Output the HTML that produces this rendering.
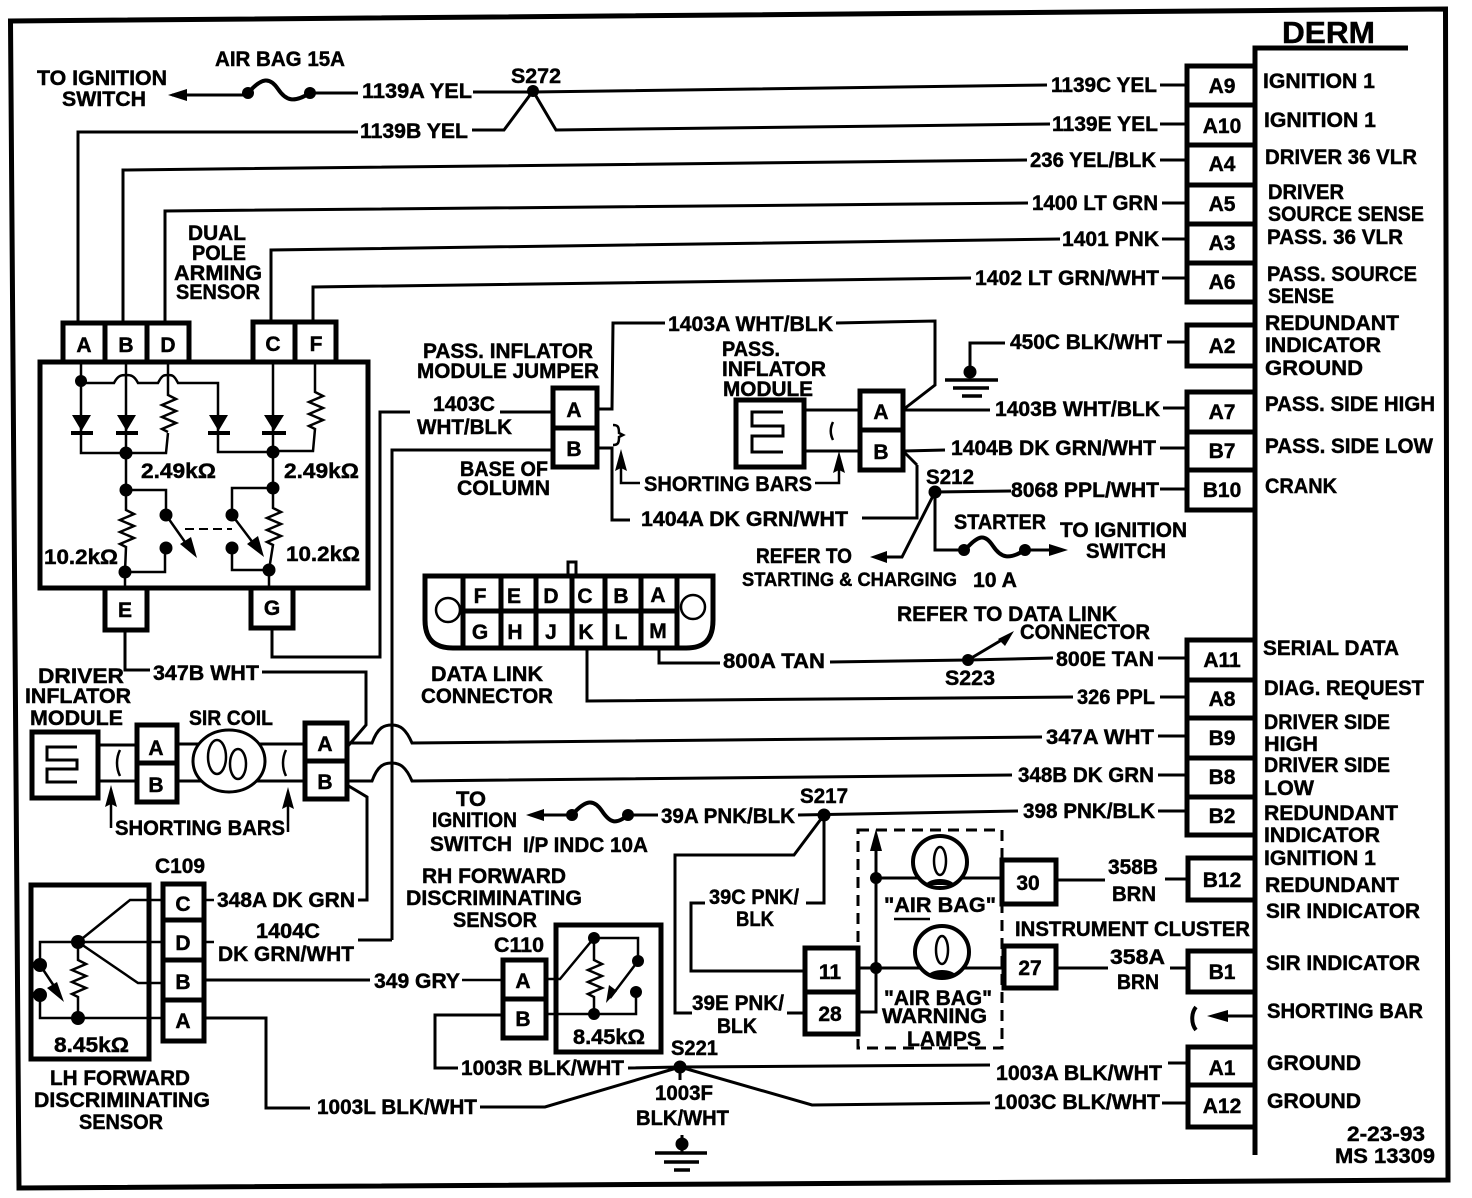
<!DOCTYPE html>
<html><head><meta charset="utf-8"><style>
html,body{margin:0;padding:0;background:#fff}
svg{display:block}
text{font-family:"Liberation Sans",sans-serif;font-weight:bold;font-size:21px;fill:#000;stroke:#000;stroke-width:.45px}
.w{fill:none;stroke:#000;stroke-width:3}
.b{fill:none;stroke:#000;stroke-width:5}
.t{fill:none;stroke:#000;stroke-width:2.5}
.f{fill:#000;stroke:none}
</style></head><body>
<svg width="1472" height="1198" viewBox="0 0 1472 1198" xmlns="http://www.w3.org/2000/svg">
<rect width="1472" height="1198" fill="#fff"/>
<path class="b" d="M10.500 21L1445.500 9L1448 1180L19 1188Z"/>
<!-- DERM -->
<path class="b" d="M1255 1155V48H1408"/>
<g class="b">
<path class="b" d="M1255 66H1187V302H1255M1187 105H1255M1187 145H1255M1187 185H1255M1187 224H1255M1187 263H1255"/>
<path class="b" d="M1255 325H1187V366H1255"/>
<path class="b" d="M1255 392H1187V510H1255M1187 432H1255M1187 470H1255"/>
<path class="b" d="M1255 640H1187V835H1255M1187 680H1255M1187 718H1255M1187 758H1255M1187 797H1255"/>
<path class="b" d="M1255 858H1188V900H1255"/>
<path class="b" d="M1255 951H1188V992H1255"/>
<path class="b" d="M1255 1047H1188V1127H1255M1188 1085H1255"/>
</g>
<!-- top wires -->
<path class="w" d="M1160 85H1187M1160 124H1187M1160 160H1187M1162 203H1187M1162 239H1187M1162 278H1187M1167 342H1187M1163 408H1187M1160 448H1187M1160 489H1187M1158 658H1187M1160 697H1187M1158 736H1187M1158 775H1187M1158 811H1187M1165 879H1187M1170 968H1187M1168 1063H1187M1162 1103H1187"/>
<path class="w" d="M473 92H533L1047 85M472 130H504L533 91L556 130L1050 124M78 322V132H358M123 322V170L1027 160M165 322V211L1028 203M271 322V250L1060 239M313 322V287L971 278"/>
<path class="w" d="M172 95H248M310 93H358"/>
<path class="f" d="M168 95l19-6v12z"/>
<circle cx="248" cy="93" r="6" class="f"/><circle cx="310" cy="93" r="6" class="f"/><circle cx="533" cy="91" r="6" class="f"/>
<path class="b" d="M248 93c14-16 22-16 30-4s16 14 32 4" style="stroke-width:4"/>
<!-- arming sensor -->
<rect x="40" y="362" width="328" height="226" class="b"/>
<path class="b" d="M63 360V323H189V360M105 323V360M147 323V360M253 360V322H336V360M295 322V360M105 590V630H147V590M251 590V628H293V590"/>
<path class="t" d="M81 362V453H166L168 433M126 362V490M168 362V395l8 4-14 6 14 6-14 6 14 6-14 6 6 3M81 383H114c4-8 8-8 12-8s8 0 12 8H158c4-8 6-8 10-8s6 0 10 8H218V452H273M273 362V488M315 362V392l8 4-14 6 14 6-14 6 14 6-14 6 6 3L313 451H273"/>
<path class="f" d="M72 415h19l-9.500 16zM117 415h19l-9.500 16zM209 415h19l-9.500 16zM264 415h20l-10 16z"/>
<path class="b" d="M71 433h22M116 433h22M208 433h22M262 433h24" style="stroke-width:4"/>
<path class="t" d="M126 490H166V515M166 515L192 552M126 490V510l8 4-14 6 14 6-14 6 14 6-14 6 6 3L125 572H165V548M125 572V590M273 488H232V515L260 552M273 488V508l8 4-14 6 14 6-14 6 14 6-14 6 6 3L269 570H232V548M269 570V590"/>
<path class="f" d="M197 558l-17-14 11-7zM264 557l-17-13 11-8z"/>
<path d="M185 529H232" stroke="#000" stroke-width="2" stroke-dasharray="9 5" fill="none"/>
<g class="f"><circle cx="81" cy="381" r="6"/><circle cx="126" cy="453" r="6.500"/><circle cx="273" cy="452" r="6.500"/><circle cx="126" cy="490" r="6.500"/><circle cx="273" cy="488" r="6.500"/><circle cx="166" cy="515" r="6.500"/><circle cx="232" cy="515" r="6.500"/><circle cx="166" cy="548" r="6.500"/><circle cx="232" cy="548" r="6.500"/><circle cx="125" cy="572" r="6.500"/><circle cx="269" cy="570" r="6.500"/></g>
<!-- E,G wires -->
<path class="w" d="M125 630V670H150M262 672H366V725L348 746M272 628V657H380V412H410M500 412H553M392 940V450H553M358 940H392"/>
<!-- driver module -->
<rect x="32" y="732" width="66" height="66" class="b"/>
<path class="t" d="M77 747H47V760H77V769H47V782H77" style="stroke-width:3"/>
<path class="w" d="M99 745H137M99 781H137M177 744H305M177 781H305"/>
<path class="b" d="M137 725H177V802H137ZM137 763H177M305 723H347V799H305ZM305 761H347"/>
<ellipse cx="229" cy="761" rx="36" ry="31" class="b" style="stroke-width:3;fill:#fff"/>
<ellipse cx="217" cy="757" rx="9" ry="17" class="t"/><ellipse cx="238" cy="764" rx="8" ry="15" class="t"/>
<path class="t" d="M120 750c-4 8-4 18 0 26M286 750c-4 8-4 18 0 26"/>
<path class="t" d="M111 828V790M288 832V792"/>
<path class="f" d="M111 785l-6 22 6-3 6 3zM288 787l-6 22 6-3 6 3z"/>
<path class="w" d="M347 743H372c6-16 12-18 20-18s14 4 20 18L1042 737M347 781H372c6-16 12-18 20-18s14 4 20 18L1012 775M347 785L367 797V900H358"/>
<!-- LH sensor -->
<rect x="31" y="885" width="118" height="174" class="b"/>
<path class="b" d="M163 884H204V1041H163ZM163 920H204M163 960H204M163 1000H204"/>
<path class="t" d="M163 900H130L78 942M163 942H40V965M78 942L138 983H163M78 942V960l8 4-14 6 14 6-14 6 14 6-14 6 6 3V1018M163 1018H40V995M40 965L60 995M204 900H214M204 942H214"/>
<path class="w" d="M204 980H370M204 1018H266V1108H310"/>
<path class="f" d="M64 1002l-17-14 10-6z"/>
<g class="f"><circle cx="78" cy="942" r="7"/><circle cx="78" cy="1018" r="7"/><circle cx="40" cy="965" r="7"/><circle cx="40" cy="995" r="7"/></g>
<!-- jumper -->
<path class="b" d="M553 388H597V467H553ZM553 428H597"/>
<path class="w" d="M597 409H612L613 323H665M836 323L935 321V385L904 409M597 448H612V520H630M917 465V518H862M904 452L917 465"/>
<path class="t" d="M613 425c5 0 6 2 6 8l4 2-4 2c0 6-1 8-6 8"/>
<path class="t" d="M621 455V483H640"/><path class="f" d="M621 449l-6 22 6-3 6 3z"/>
<!-- pass inflator -->
<rect x="736" y="400" width="68" height="67" class="b"/>
<path class="t" d="M783 412H752V426H783V436H752V452H783" style="stroke-width:3"/>
<path class="w" d="M805 410H860M805 451H860"/>
<path class="b" d="M860 391H903V470H860ZM860 430H903"/>
<path class="t" d="M833 422c-3 6-3 12 0 18"/>
<path class="t" d="M815 483H839V456"/><path class="f" d="M839 451l-6 22 6-3 6 3z"/>
<path class="w" d="M904 410H990M904 451L945 450"/>
<!-- ground 450C -->
<path class="w" d="M1005 343H970V372"/><circle cx="970" cy="372" r="6.500" class="f"/>
<path class="b" d="M945 380H998M953 388H989M962 396H982" style="stroke-width:3.500"/>
<!-- S212 -->
<path class="w" d="M1011 491L935 492V550H965M935 492L902 557H886M1025 550H1050"/>
<path class="f" d="M870 557l17-6v12zM1068 550l-19-6v12z"/>
<circle cx="935" cy="492" r="6.500" class="f"/><circle cx="964" cy="550" r="6" class="f"/><circle cx="1025" cy="550" r="6" class="f"/>
<path class="b" d="M965 550c14-16 20-16 28-4s16 14 32 4" style="stroke-width:4"/>
<!-- DLC -->
<path class="b" d="M425 576V620c0 20 10 28 28 28H686c18 0 27-8 27-28V576H425ZM463 576V648M501 576V648M536 576V648M572 576V648M605 576V648M641 576V648M677 576V648M463 611H677"/>
<rect x="568" y="562" width="8" height="13" class="b" style="stroke-width:3"/>
<circle cx="448" cy="610" r="12" class="t"/><circle cx="693" cy="607" r="12" class="t"/>
<path class="w" d="M659 648V663H720M830 662L968 660L1053 658M587 648V701L1073 697M968 660L1005 638"/>
<path class="f" d="M1014 631l-16 8 7 7z"/><circle cx="968" cy="660" r="6" class="f"/>
<!-- 39 wiring -->
<path class="w" d="M530 815H572M628 815H658M798 815L1018 811"/>
<path class="f" d="M526 815l18-6v12z"/>
<circle cx="572" cy="815" r="6" class="f"/><circle cx="628" cy="815" r="6" class="f"/><circle cx="824" cy="815" r="6.500" class="f"/>
<path class="b" d="M572 815c14-16 22-16 30-4s14 14 26 4" style="stroke-width:4"/>
<path class="w" d="M824 815V903H806M824 815L794 855H675V1013H692M705 903H691V971H805M787 1013H805"/>
<!-- RH sensor -->
<rect x="556" y="925" width="105" height="127" class="b"/>
<path class="b" d="M503 960H546V1038H503ZM503 999H546"/>
<path class="t" d="M462 980H503M546 979H560L594 938H638V961L610 998M594 938V960l8 4-14 6 14 6-14 6 14 6-14 6 6 3V1014M547 1014H636V992"/>
<path class="w" d="M503 1015H435V1068H458"/>
<path class="f" d="M606 1003l3-18 8 6z"/>
<g class="f"><circle cx="594" cy="938" r="6"/><circle cx="638" cy="961" r="6"/><circle cx="636" cy="992" r="6"/><circle cx="594" cy="1014" r="6"/></g>
<!-- cluster -->
<path d="M858 830H1002V1048H858Z" fill="none" stroke="#000" stroke-width="3" stroke-dasharray="11 7"/>
<path class="b" d="M805 948H858V1034H805ZM805 992H858M1002 860H1056V904H1002ZM1004 946H1056V988H1004Z"/>
<path class="w" d="M858 968H1004M876 968V845M876 878H1002M858 1012H876V968M1056 880H1105M1056 968H1108"/>
<path class="f" d="M876 829l-6 22h12z"/><circle cx="876" cy="878" r="6" class="f"/><circle cx="876" cy="968" r="6" class="f"/>
<ellipse cx="940" cy="862" rx="27" ry="26" style="fill:#fff;stroke:#000;stroke-width:4"/><ellipse cx="942" cy="952" rx="27" ry="26" style="fill:#fff;stroke:#000;stroke-width:4"/>
<ellipse cx="940" cy="861" rx="6" ry="14" class="t"/><ellipse cx="942" cy="950" rx="6" ry="14" class="t"/>
<path class="f" d="M925 885c5-8 25-8 30 0zM927 976c5-8 25-8 30 0z"/>
<path class="t" d="M894 919H930"/>
<!-- S221 -->
<path class="w" d="M628 1068L680 1067L990 1065M680 1067L812 1105L990 1103M680 1067L545 1107H480M680 1067V1080M682 1135V1153"/>
<circle cx="680" cy="1067" r="6.500" class="f"/><circle cx="682" cy="1144" r="6.500" class="f"/>
<path class="b" d="M655 1153H707M664 1162H699M674 1170H690" style="stroke-width:3.500"/>
<!-- right shorting bar -->
<path class="w" d="M1255 1016H1222"/><path class="f" d="M1207 1016l21-6v12z"/>
<path class="w" d="M1196 1007c-5 6-5 17 0 23" style="stroke-width:4"/>

<!-- TEXT -->
<g>
<text x="1282" y="43" style="font-size:31px" textLength="93" lengthAdjust="spacingAndGlyphs">DERM</text>
<text x="37" y="85" textLength="130" lengthAdjust="spacingAndGlyphs">TO IGNITION</text>
<text x="62" y="106" textLength="84" lengthAdjust="spacingAndGlyphs">SWITCH</text>
<text x="215" y="66" textLength="130" lengthAdjust="spacingAndGlyphs">AIR BAG 15A</text>
<text x="362" y="98" textLength="110" lengthAdjust="spacingAndGlyphs">1139A YEL</text>
<text x="360" y="138" textLength="108" lengthAdjust="spacingAndGlyphs">1139B YEL</text>
<text x="511" y="83" textLength="50" lengthAdjust="spacingAndGlyphs">S272</text>
<text x="1051" y="92" textLength="106" lengthAdjust="spacingAndGlyphs">1139C YEL</text>
<text x="1052" y="131" textLength="106" lengthAdjust="spacingAndGlyphs">1139E YEL</text>
<text x="1030" y="167" textLength="126" lengthAdjust="spacingAndGlyphs">236 YEL/BLK</text>
<text x="1032" y="210" textLength="126" lengthAdjust="spacingAndGlyphs">1400 LT GRN</text>
<text x="1062" y="246" textLength="97" lengthAdjust="spacingAndGlyphs">1401 PNK</text>
<text x="975" y="285" textLength="184" lengthAdjust="spacingAndGlyphs">1402 LT GRN/WHT</text>
<text x="188" y="240" textLength="58" lengthAdjust="spacingAndGlyphs">DUAL</text>
<text x="192" y="260" textLength="54" lengthAdjust="spacingAndGlyphs">POLE</text>
<text x="174" y="280" textLength="88" lengthAdjust="spacingAndGlyphs">ARMING</text>
<text x="176" y="299" textLength="84" lengthAdjust="spacingAndGlyphs">SENSOR</text>
<text x="668" y="331" textLength="165" lengthAdjust="spacingAndGlyphs">1403A WHT/BLK</text>
<text x="722" y="356" textLength="58" lengthAdjust="spacingAndGlyphs">PASS.</text>
<text x="722" y="376" textLength="104" lengthAdjust="spacingAndGlyphs">INFLATOR</text>
<text x="723" y="396" textLength="90" lengthAdjust="spacingAndGlyphs">MODULE</text>
<text x="423" y="358" textLength="170" lengthAdjust="spacingAndGlyphs">PASS. INFLATOR</text>
<text x="417" y="378" textLength="182" lengthAdjust="spacingAndGlyphs">MODULE JUMPER</text>
<text x="433" y="411" textLength="62" lengthAdjust="spacingAndGlyphs">1403C</text>
<text x="417" y="434" textLength="95" lengthAdjust="spacingAndGlyphs">WHT/BLK</text>
<text x="460" y="476" textLength="88" lengthAdjust="spacingAndGlyphs">BASE OF</text>
<text x="457" y="495" textLength="93" lengthAdjust="spacingAndGlyphs">COLUMN</text>
<text x="1010" y="349" textLength="152" lengthAdjust="spacingAndGlyphs">450C BLK/WHT</text>
<text x="995" y="416" textLength="165" lengthAdjust="spacingAndGlyphs">1403B WHT/BLK</text>
<text x="951" y="455" textLength="205" lengthAdjust="spacingAndGlyphs">1404B DK GRN/WHT</text>
<text x="926" y="484" textLength="48" lengthAdjust="spacingAndGlyphs">S212</text>
<text x="1011" y="497" textLength="148" lengthAdjust="spacingAndGlyphs">8068 PPL/WHT</text>
<text x="644" y="491" textLength="168" lengthAdjust="spacingAndGlyphs">SHORTING BARS</text>
<text x="641" y="526" textLength="207" lengthAdjust="spacingAndGlyphs">1404A DK GRN/WHT</text>
<text x="954" y="529" textLength="92" lengthAdjust="spacingAndGlyphs">STARTER</text>
<text x="1060" y="537" textLength="127" lengthAdjust="spacingAndGlyphs">TO IGNITION</text>
<text x="1086" y="558" textLength="80" lengthAdjust="spacingAndGlyphs">SWITCH</text>
<text x="756" y="563" textLength="96" lengthAdjust="spacingAndGlyphs">REFER TO</text>
<text x="742" y="586" style="font-size:19px" textLength="215" lengthAdjust="spacingAndGlyphs">STARTING &amp; CHARGING</text>
<text x="973" y="587" textLength="44" lengthAdjust="spacingAndGlyphs">10 A</text>
<text x="897" y="621" textLength="220" lengthAdjust="spacingAndGlyphs">REFER TO  DATA LINK</text>
<text x="1020" y="639" textLength="130" lengthAdjust="spacingAndGlyphs">CONNECTOR</text>
<text x="1056" y="666" textLength="98" lengthAdjust="spacingAndGlyphs">800E TAN</text>
<text x="723" y="668" textLength="102" lengthAdjust="spacingAndGlyphs">800A TAN</text>
<text x="945" y="685" textLength="50" lengthAdjust="spacingAndGlyphs">S223</text>
<text x="1077" y="704" textLength="78" lengthAdjust="spacingAndGlyphs">326 PPL</text>
<text x="431" y="681" textLength="112" lengthAdjust="spacingAndGlyphs">DATA LINK</text>
<text x="421" y="703" textLength="132" lengthAdjust="spacingAndGlyphs">CONNECTOR</text>
<text x="1046" y="744" textLength="108" lengthAdjust="spacingAndGlyphs">347A WHT</text>
<text x="1018" y="782" textLength="136" lengthAdjust="spacingAndGlyphs">348B DK GRN</text>
<text x="1023" y="818" textLength="132" lengthAdjust="spacingAndGlyphs">398 PNK/BLK</text>
<text x="661" y="823" textLength="134" lengthAdjust="spacingAndGlyphs">39A PNK/BLK</text>
<text x="800" y="803" textLength="48" lengthAdjust="spacingAndGlyphs">S217</text>
<text x="153" y="680" textLength="106" lengthAdjust="spacingAndGlyphs">347B WHT</text>
<text x="38" y="683" textLength="86" lengthAdjust="spacingAndGlyphs">DRIVER</text>
<text x="25" y="703" textLength="106" lengthAdjust="spacingAndGlyphs">INFLATOR</text>
<text x="30" y="725" textLength="93" lengthAdjust="spacingAndGlyphs">MODULE</text>
<text x="189" y="725" textLength="84" lengthAdjust="spacingAndGlyphs">SIR COIL</text>
<text x="115" y="835" textLength="170" lengthAdjust="spacingAndGlyphs">SHORTING BARS</text>
<text x="456" y="806" textLength="30" lengthAdjust="spacingAndGlyphs">TO</text>
<text x="432" y="827" textLength="85" lengthAdjust="spacingAndGlyphs">IGNITION</text>
<text x="430" y="851" textLength="82" lengthAdjust="spacingAndGlyphs">SWITCH</text>
<text x="523" y="852" textLength="125" lengthAdjust="spacingAndGlyphs">I/P INDC 10A</text>
<text x="422" y="883" textLength="144" lengthAdjust="spacingAndGlyphs">RH FORWARD</text>
<text x="406" y="905" textLength="176" lengthAdjust="spacingAndGlyphs">DISCRIMINATING</text>
<text x="453" y="927" textLength="84" lengthAdjust="spacingAndGlyphs">SENSOR</text>
<text x="155" y="873" textLength="50" lengthAdjust="spacingAndGlyphs">C109</text>
<text x="494" y="952" textLength="50" lengthAdjust="spacingAndGlyphs">C110</text>
<text x="217" y="907" textLength="138" lengthAdjust="spacingAndGlyphs">348A DK GRN</text>
<text x="256" y="938" textLength="64" lengthAdjust="spacingAndGlyphs">1404C</text>
<text x="218" y="961" textLength="136" lengthAdjust="spacingAndGlyphs">DK GRN/WHT</text>
<text x="374" y="988" textLength="86" lengthAdjust="spacingAndGlyphs">349 GRY</text>
<text x="50" y="1085" textLength="140" lengthAdjust="spacingAndGlyphs">LH FORWARD</text>
<text x="34" y="1107" textLength="176" lengthAdjust="spacingAndGlyphs">DISCRIMINATING</text>
<text x="79" y="1129" textLength="84" lengthAdjust="spacingAndGlyphs">SENSOR</text>
<text x="54" y="1052" textLength="75" lengthAdjust="spacingAndGlyphs">8.45kΩ</text>
<text x="573" y="1044" textLength="72" lengthAdjust="spacingAndGlyphs">8.45kΩ</text>
<text x="141" y="478" textLength="75" lengthAdjust="spacingAndGlyphs">2.49kΩ</text>
<text x="284" y="478" textLength="75" lengthAdjust="spacingAndGlyphs">2.49kΩ</text>
<text x="44" y="564" textLength="74" lengthAdjust="spacingAndGlyphs">10.2kΩ</text>
<text x="286" y="561" textLength="74" lengthAdjust="spacingAndGlyphs">10.2kΩ</text>
<text x="317" y="1114" textLength="160" lengthAdjust="spacingAndGlyphs">1003L BLK/WHT</text>
<text x="461" y="1075" textLength="163" lengthAdjust="spacingAndGlyphs">1003R BLK/WHT</text>
<text x="671" y="1055" textLength="47" lengthAdjust="spacingAndGlyphs">S221</text>
<text x="655" y="1100" textLength="58" lengthAdjust="spacingAndGlyphs">1003F</text>
<text x="636" y="1125" textLength="93" lengthAdjust="spacingAndGlyphs">BLK/WHT</text>
<text x="996" y="1080" textLength="166" lengthAdjust="spacingAndGlyphs">1003A BLK/WHT</text>
<text x="994" y="1109" textLength="166" lengthAdjust="spacingAndGlyphs">1003C BLK/WHT</text>
<text x="709" y="904" textLength="90" lengthAdjust="spacingAndGlyphs">39C PNK/</text>
<text x="736" y="926" textLength="38" lengthAdjust="spacingAndGlyphs">BLK</text>
<text x="692" y="1010" textLength="92" lengthAdjust="spacingAndGlyphs">39E PNK/</text>
<text x="717" y="1033" textLength="40" lengthAdjust="spacingAndGlyphs">BLK</text>
<text x="884" y="912" textLength="112" lengthAdjust="spacingAndGlyphs">"AIR  BAG"</text>
<text x="1015" y="936" textLength="235" lengthAdjust="spacingAndGlyphs">INSTRUMENT CLUSTER</text>
<text x="1108" y="874" textLength="50" lengthAdjust="spacingAndGlyphs">358B</text>
<text x="1112" y="901" textLength="44" lengthAdjust="spacingAndGlyphs">BRN</text>
<text x="1110" y="964" textLength="55" lengthAdjust="spacingAndGlyphs">358A</text>
<text x="1117" y="989" textLength="42" lengthAdjust="spacingAndGlyphs">BRN</text>
<text x="884" y="1005" textLength="108" lengthAdjust="spacingAndGlyphs">"AIR BAG"</text>
<text x="882" y="1023" textLength="105" lengthAdjust="spacingAndGlyphs">WARNING</text>
<text x="907" y="1046" textLength="74" lengthAdjust="spacingAndGlyphs">LAMPS</text>
<text x="1263" y="88" textLength="112" lengthAdjust="spacingAndGlyphs">IGNITION 1</text>
<text x="1264" y="127" textLength="112" lengthAdjust="spacingAndGlyphs">IGNITION 1</text>
<text x="1265" y="164" textLength="152" lengthAdjust="spacingAndGlyphs">DRIVER 36 VLR</text>
<text x="1268" y="199" textLength="76" lengthAdjust="spacingAndGlyphs">DRIVER</text>
<text x="1268" y="221" textLength="156" lengthAdjust="spacingAndGlyphs">SOURCE SENSE</text>
<text x="1267" y="244" textLength="136" lengthAdjust="spacingAndGlyphs">PASS. 36 VLR</text>
<text x="1267" y="281" textLength="150" lengthAdjust="spacingAndGlyphs">PASS. SOURCE</text>
<text x="1268" y="303" textLength="66" lengthAdjust="spacingAndGlyphs">SENSE</text>
<text x="1265" y="330" textLength="134" lengthAdjust="spacingAndGlyphs">REDUNDANT</text>
<text x="1265" y="352" textLength="116" lengthAdjust="spacingAndGlyphs">INDICATOR</text>
<text x="1265" y="375" textLength="98" lengthAdjust="spacingAndGlyphs">GROUND</text>
<text x="1265" y="411" textLength="170" lengthAdjust="spacingAndGlyphs">PASS. SIDE HIGH</text>
<text x="1265" y="453" textLength="168" lengthAdjust="spacingAndGlyphs">PASS. SIDE LOW</text>
<text x="1265" y="493" textLength="72" lengthAdjust="spacingAndGlyphs">CRANK</text>
<text x="1263" y="655" textLength="136" lengthAdjust="spacingAndGlyphs">SERIAL DATA</text>
<text x="1264" y="695" textLength="160" lengthAdjust="spacingAndGlyphs">DIAG. REQUEST</text>
<text x="1264" y="729" textLength="126" lengthAdjust="spacingAndGlyphs">DRIVER SIDE</text>
<text x="1264" y="751" textLength="54" lengthAdjust="spacingAndGlyphs">HIGH</text>
<text x="1264" y="772" textLength="126" lengthAdjust="spacingAndGlyphs">DRIVER SIDE</text>
<text x="1264" y="795" textLength="50" lengthAdjust="spacingAndGlyphs">LOW</text>
<text x="1264" y="820" textLength="134" lengthAdjust="spacingAndGlyphs">REDUNDANT</text>
<text x="1264" y="842" textLength="116" lengthAdjust="spacingAndGlyphs">INDICATOR</text>
<text x="1264" y="865" textLength="112" lengthAdjust="spacingAndGlyphs">IGNITION 1</text>
<text x="1265" y="892" textLength="134" lengthAdjust="spacingAndGlyphs">REDUNDANT</text>
<text x="1266" y="918" textLength="154" lengthAdjust="spacingAndGlyphs">SIR INDICATOR</text>
<text x="1266" y="970" textLength="154" lengthAdjust="spacingAndGlyphs">SIR INDICATOR</text>
<text x="1267" y="1018" textLength="156" lengthAdjust="spacingAndGlyphs">SHORTING BAR</text>
<text x="1267" y="1070" textLength="94" lengthAdjust="spacingAndGlyphs">GROUND</text>
<text x="1267" y="1108" textLength="94" lengthAdjust="spacingAndGlyphs">GROUND</text>
<text x="1347" y="1141" textLength="78" lengthAdjust="spacingAndGlyphs">2-23-93</text>
<text x="1335" y="1163" textLength="100" lengthAdjust="spacingAndGlyphs">MS 13309</text>
</g>
<!-- connector pin labels -->
<g text-anchor="middle">
<text x="1222" y="93">A9</text><text x="1222" y="133">A10</text><text x="1222" y="171">A4</text><text x="1222" y="211">A5</text><text x="1222" y="250">A3</text><text x="1222" y="289">A6</text>
<text x="1222" y="353">A2</text><text x="1222" y="419">A7</text><text x="1222" y="458">B7</text><text x="1222" y="497">B10</text>
<text x="1222" y="667">A11</text><text x="1222" y="706">A8</text><text x="1222" y="745">B9</text><text x="1222" y="784">B8</text><text x="1222" y="823">B2</text>
<text x="1222" y="887">B12</text><text x="1222" y="979">B1</text><text x="1222" y="1075">A1</text><text x="1222" y="1113">A12</text>
<text x="84" y="352">A</text><text x="126" y="352">B</text><text x="168" y="352">D</text><text x="273" y="351">C</text><text x="316" y="351">F</text>
<text x="125" y="617">E</text><text x="272" y="615">G</text>
<text x="156" y="755">A</text><text x="156" y="792">B</text><text x="325" y="751">A</text><text x="325" y="789">B</text>
<text x="183" y="911">C</text><text x="183" y="950">D</text><text x="183" y="989">B</text><text x="183" y="1028">A</text>
<text x="574" y="417">A</text><text x="574" y="456">B</text><text x="881" y="419">A</text><text x="881" y="459">B</text>
<text x="523" y="988">A</text><text x="523" y="1026">B</text>
<text x="830" y="979">11</text><text x="830" y="1021">28</text><text x="1028" y="890">30</text><text x="1030" y="975">27</text>
<text x="480" y="603">F</text><text x="514" y="603">E</text><text x="551" y="603">D</text><text x="585" y="603">C</text><text x="621" y="603">B</text><text x="658" y="602">A</text>
<text x="480" y="639">G</text><text x="515" y="639">H</text><text x="551" y="639">J</text><text x="586" y="639">K</text><text x="621" y="639">L</text><text x="658" y="638">M</text>
</g>
</svg>
</body></html>
